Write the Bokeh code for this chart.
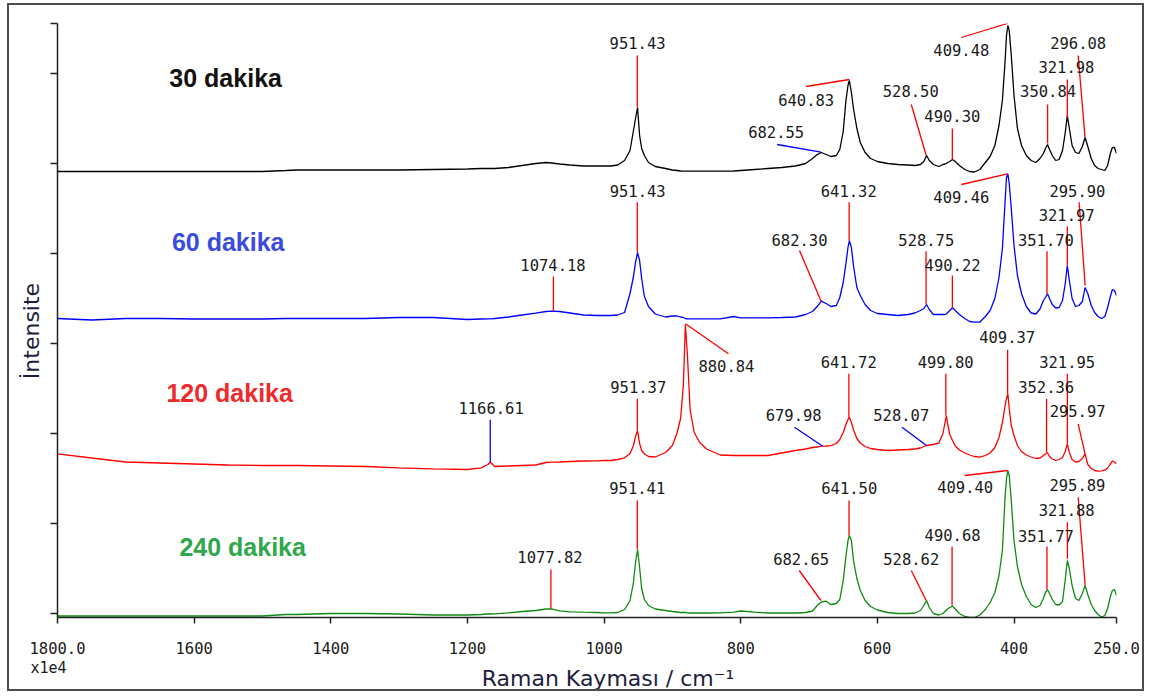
import math
from bokeh.plotting import figure
from bokeh.models import Range1d, FixedTicker, ColumnDataSource, LinearAxis
from bokeh.core.properties import value
from bokeh.embed import file_html
from bokeh.resources import INLINE

# ---------------- data ----------------
wavenumber = [
    1800, 1750, 1700, 1650, 1600, 1550, 1500, 1466, 1450, 1400, 1350, 1300, 1250, 1200, 1180, 1170, 1167, 1166,
    1160, 1140, 1120, 1100, 1085, 1077, 1065, 1050, 1030, 1010,
    1000, 990, 980, 970, 962, 957, 954, 951, 948, 945,
    941, 935, 925, 910, 900, 893, 888, 884, 881, 878,
    874, 868, 860, 850, 830, 810, 800, 780, 760, 740,
    720, 705, 695, 688, 682, 675, 668, 660, 655, 650,
    646, 643, 641, 638, 635, 630, 625, 618, 610, 600,
    585, 570, 555, 545, 537, 532, 528, 524, 518, 510,
    504, 501, 499, 497, 494, 490, 486, 480, 472, 465,
    458, 450, 442, 435, 428, 422, 417, 413, 411, 409,
    407, 404, 400, 395, 389, 382, 375, 368, 362, 357,
    354, 351, 348, 344, 339, 334, 329, 325, 322, 319,
    315, 310, 305, 300, 296, 292, 287, 282, 277, 272,
    267, 263, 259, 256, 253, 250,
]

int_30 = [
    442, 442, 442, 442, 442, 442, 442, 443, 443.5, 443.5, 443.5, 443.5, 444, 444.5, 445, 445, 445, 445,
    445, 446, 448, 450, 451, 450.5, 449.5, 448.5, 447.5, 447.5,
    447.5, 447.5, 448.5, 453, 463, 483, 495, 506, 478, 465,
    458, 451, 447, 445, 443.5, 443, 442.5, 442.3, 442.3, 442.3,
    442.3, 442.3, 442.3, 442.3, 442.3, 442.5, 443, 444, 445, 446,
    447.5, 450, 455, 459, 461, 459, 457, 458, 464, 482,
    513, 528, 533, 521, 505, 485, 471, 461, 455, 452,
    450, 449, 448.5, 448, 449, 452, 458, 453, 449, 447,
    449, 449.5, 450, 451, 452, 454, 452, 448, 444, 442,
    441.5, 444, 451, 457, 468, 488, 513, 553, 578, 588,
    583, 558, 518, 485, 468, 458, 453, 451, 455, 460,
    465, 469, 464, 458, 453, 454, 463, 481, 498, 485,
    468, 461, 460, 467, 476, 467, 455, 448, 445, 444,
    443, 448, 460, 466, 466, 460,
]

int_60 = [
    295, 293.5, 295, 295, 294.5, 294.5, 294.5, 295, 295, 295, 295, 296, 296, 294, 294.5, 294.7, 294.7, 294.7,
    295, 296.5, 298.5, 300.3, 302, 302.3, 302, 300.5, 298.5, 298,
    298, 298, 298.5, 301, 320, 337, 351, 361, 353, 335,
    317, 307, 299.5, 296.5, 297.5, 297.5, 296.5, 296, 295, 294.7,
    294.7, 294.7, 294.7, 294.7, 294.7, 297, 295.7, 295.7, 295.7, 296,
    296.5, 299, 302, 307, 312.3, 310, 307, 308, 316, 331,
    350, 366, 373, 366, 348, 326, 318, 309, 303, 300,
    299, 298, 299, 300.5, 303, 305, 309, 304, 299, 299,
    299, 299, 299.5, 301, 303, 305.7, 303, 299, 295, 292,
    291.3, 291.5, 297, 303, 315, 336, 365, 413, 436, 439.7,
    430, 405, 368, 338, 320, 307, 300.5, 299.5, 304.5, 313,
    316, 319.7, 315, 309, 305.5, 306, 313, 330, 348, 333,
    315, 307, 308, 312, 326, 320, 308, 301, 297, 295,
    297, 306, 317, 324, 323, 318,
]

int_120 = [
    159.7, 155.5, 151.5, 150.5, 149.5, 148.5, 148, 148, 148, 147.5, 147, 145.7, 144.7, 144, 145.7, 149, 151.3, 151,
    147, 147.5, 148, 148.5, 151, 151.3, 151.5, 152, 152.5, 152.7,
    153, 153, 154, 155.7, 160, 168, 177, 183, 170, 163,
    159.5, 157, 156.5, 161, 168, 181, 195, 228, 289, 258,
    203, 181, 171, 164.5, 158.5, 158, 158, 158, 158, 160.5,
    163, 164.5, 166, 166.5, 167.3, 167.5, 167.8, 170, 174, 181,
    189, 194, 196.3, 191, 184, 175, 170.5, 167, 165, 164,
    163, 163.5, 164, 164.5, 165.5, 167, 168, 168.5, 169, 170.5,
    180, 191, 198, 189, 179, 173, 167.5, 163.5, 160.5, 158.5,
    157, 156.3, 158, 160.5, 166, 176, 191, 208, 215, 219.7,
    205, 188, 178, 168, 162, 158.5, 156.5, 155, 155.5, 158,
    159.5, 160.7, 157, 154.5, 153, 154, 156, 162, 169.7, 161,
    154, 151.5, 152, 155, 159.7, 149, 145, 143, 142.3, 142.7,
    143.3, 145.5, 149.5, 152.3, 151.5, 149.7,
]

int_240 = [
    -2.5, -2.5, -2.5, -2.5, -2.5, -2.5, -2.5, -1, -1, 0, 0, -0.5, -1.5, -1.5, -1, -0.5, -0.5, -0.5,
    -0.3, 0.7, 2, 3, 4.5, 4.7, 2.7, 1.7, 1.3, 1,
    0.7, 0.7, 1, 4, 13, 31, 51, 64, 46, 25,
    14, 8, 4.5, 3, 2, 1.5, 1, 1, 1, 0.7,
    0.5, 0.5, 0.5, 0.5, 0.7, 1.3, 2.5, 1.3, 0.5, 0.5,
    0.5, 1, 2.5, 8, 11.5, 12.3, 9, 10, 14, 33,
    57, 73, 78, 73, 53, 35, 23, 13, 7, 3.5,
    1, 0, 0, 0.5, 3, 8, 13, 6, 0, -1.5,
    0, 2, 3.5, 4.7, 6, 7.3, 4.5, 0, -3, -4,
    -4, -1.5, 4, 11, 21, 38, 63, 118, 135, 143,
    138, 113, 73, 47, 29, 17, 9, 6, 8, 15,
    21, 23.7, 20, 14, 9, 8.5, 12, 34, 53, 45,
    28, 15, 13, 20, 28, 19, 9, 3, -1, -3.5,
    -2, 5, 17, 23, 24, 18,
]

series_names = ["30 dakika", "60 dakika", "120 dakika", "240 dakika"]
series_name_x = [1553.9, 1550.2, 1548.0, 1529.0]
series_name_y = [536, 372, 221, 67]

x_ticks = [1800, 1600, 1400, 1200, 1000, 800, 600, 400, 250]
x_tick_text = {1800: "1800.0", 250: "250.0"}
y_ticks = [0, 90, 180, 270, 360, 450, 540, 590]
scale_note = "x1e4"
x_title = "Raman Kayması / cm⁻¹"
y_title = "İntensite"

# peak annotations: label text, label centre, leader start, leader end (peak)
peaks_30 = dict(
    text=["951.43", "640.83", "682.55", "528.50", "490.30", "409.48", "350.84", "321.98", "296.08"],
    tx=[951.0, 704.2, 748.1, 551.1, 490.3, 477.1, 350.1, 323.3, 306.1],
    ty=[571, 514, 481.3, 522.3, 498, 564, 522.3, 546.3, 570.3],
    x0=[951.43, 704.2, 746.7, 550.4, 490.30, 477.1, 350.84, 321.98, 306.1],
    y0=[558, 527, 469, 509, 485, 576, 509, 534, 558],
    x1=[951.43, 640.83, 682.55, 528.50, 490.30, 409.48, 350.84, 321.98, 296.08],
    y1=[506, 534, 461.3, 458, 454, 590, 470, 496, 476],
    color=["#ff0000", "#ff0000", "#0000ff", "#ff0000", "#ff0000", "#ff0000", "#ff0000", "#ff0000", "#ff0000"],
)
peaks_60 = dict(
    text=["1074.18", "951.43", "682.30", "641.32", "528.75", "490.22", "409.46", "351.70", "321.97", "295.90"],
    tx=[1074.8, 950.8, 714.0, 641.9, 528.4, 489.9, 477.1, 353.3, 322.9, 307.2],
    ty=[349, 423, 373.7, 422.3, 373.7, 349, 416.3, 373.7, 399, 423],
    x0=[1074.18, 951.43, 714.0, 641.32, 528.75, 490.22, 477.1, 351.70, 321.97, 304.7],
    y0=[337, 411.3, 363, 411.3, 362.3, 338, 429, 362.3, 387, 411.3],
    x1=[1074.18, 951.43, 682.30, 641.32, 528.75, 490.22, 409.46, 351.70, 321.97, 295.90],
    y1=[302.3, 361.3, 312.3, 373, 309, 305.7, 439.7, 319.7, 348, 328],
    color=["#ff0000"] * 10,
)
peaks_120 = dict(
    text=["1166.61", "951.37", "880.84", "641.72", "679.98", "528.07", "499.80", "409.37", "352.36", "321.95", "295.97"],
    tx=[1165.4, 950.0, 820.9, 641.9, 722.5, 565.0, 500.1, 410.0, 353.0, 322.2, 306.9],
    ty=[205.7, 227, 248, 251.3, 199, 199, 251.3, 276.3, 226.3, 251.3, 203],
    x0=[1166.61, 951.37, 818.0, 641.72, 721.3, 564.0, 499.80, 409.37, 352.36, 321.95, 306.1],
    y0=[193.7, 214.7, 259.7, 239.7, 186.3, 186.3, 239.7, 263.7, 214.7, 239.7, 189.7],
    x1=[1166.61, 951.37, 880.84, 641.72, 679.98, 528.07, 499.80, 409.37, 352.36, 321.95, 295.97],
    y1=[151.3, 183, 289.7, 196.3, 167.3, 168, 198, 219.7, 160.7, 169.7, 159.7],
    color=["#0000ff", "#ff0000", "#ff0000", "#ff0000", "#0000ff", "#0000ff",
           "#ff0000", "#ff0000", "#ff0000", "#ff0000", "#ff0000"],
)
peaks_240 = dict(
    text=["1077.82", "951.41", "682.65", "641.50", "528.62", "490.68", "409.40", "351.77", "321.88", "295.89"],
    tx=[1079.2, 951.4, 711.5, 641.2, 550.4, 489.9, 471.5, 353.3, 322.9, 307.2],
    ty=[57, 126, 55, 126, 54.7, 79, 126.3, 78, 103.7, 129],
    x0=[1077.82, 951.41, 714.4, 641.50, 550.4, 490.68, 472.3, 351.77, 321.88, 306.1],
    y0=[44, 113, 43, 113, 43, 67, 138, 67, 91.3, 116.3],
    x1=[1077.82, 951.41, 682.65, 641.50, 528.62, 490.68, 409.40, 351.77, 321.88, 295.89],
    y1=[5, 64, 13, 78, 13, 8, 143, 23.7, 54.7, 28],
    color=["#ff0000"] * 10,
)

NBSP = "\u00a0"

# ---------------- figure ----------------
p = figure(width=1137, height=688, output_backend="svg", toolbar_location=None,
           x_range=Range1d(1800, 250), y_range=Range1d(-4, 590),
           min_border_left=48, min_border_right=30, min_border_top=18, min_border_bottom=76)
p.styles = {"border": "2px solid #4d4d4d", "margin-top": "3px", "margin-left": "7px"}
p.outline_line_color = None
p.xgrid.visible = False
p.ygrid.visible = False
p.background_fill_color = "white"
p.border_fill_color = "white"

mono = value("DejaVu Sans Mono")

# x axis (numbers)
p.xaxis.ticker = FixedTicker(ticks=x_ticks)
p.xaxis.major_label_overrides = x_tick_text
p.xaxis.major_label_text_font = "DejaVu Sans Mono"
p.xaxis.major_label_text_font_size = "15.5px"
p.xaxis.major_label_text_color = "#1a1a1a"
p.xaxis.major_label_standoff = 18
p.xaxis.major_tick_out = 6
p.xaxis.major_tick_in = 0
p.xaxis.minor_tick_line_color = None
p.xaxis.axis_line_width = 1.5
p.xaxis.axis_line_color = "#222222"
p.xaxis.major_tick_line_color = "#222222"
p.xaxis.major_tick_line_width = 1.5

# second bottom axis: scale note and axis title
ax2 = LinearAxis(ticker=FixedTicker(ticks=[x_ticks[0]]),
                 major_label_overrides={x_ticks[0]: scale_note + NBSP * 2},
                 axis_line_color=None, major_tick_line_color=None, minor_tick_line_color=None,
                 major_tick_out=0, major_tick_in=0, major_label_standoff=2,
                 major_label_text_font="DejaVu Sans Mono", major_label_text_font_size="15px",
                 major_label_text_color="#1a1a1a",
                 axis_label=NBSP * 6 + x_title, axis_label_standoff=-14,
                 axis_label_text_font="DejaVu Sans", axis_label_text_font_size="22px",
                 axis_label_text_font_style="normal", axis_label_text_color="#1e1e3c")
p.add_layout(ax2, "below")

# y axis (no numbers)
p.yaxis.ticker = FixedTicker(ticks=y_ticks)
p.yaxis.major_label_overrides = {t: "" for t in y_ticks}
p.yaxis.major_label_text_color = None
p.yaxis.major_label_standoff = 0
p.yaxis.major_tick_out = 7
p.yaxis.major_tick_in = 0
p.yaxis.minor_tick_line_color = None
p.yaxis.axis_line_width = 1.5
p.yaxis.axis_line_color = "#222222"
p.yaxis.major_tick_line_color = "#222222"
p.yaxis.major_tick_line_width = 1.5
p.yaxis.axis_label = y_title + NBSP * 3
p.yaxis.axis_label_standoff = 7
p.yaxis.axis_label_text_font = "DejaVu Sans"
p.yaxis.axis_label_text_font_size = "22px"
p.yaxis.axis_label_text_font_style = "normal"
p.yaxis.axis_label_text_color = "#1e1e3c"

# spectra
p.line(wavenumber, int_30, line_color="#000000", line_width=1.3)
p.line(wavenumber, int_60, line_color="#0000ff", line_width=1.3)
p.line(wavenumber, int_120, line_color="#ff0000", line_width=1.3)
p.line(wavenumber, int_240, line_color="#108a10", line_width=1.3)

# peak annotations
for d in (peaks_30, peaks_60, peaks_120, peaks_240):
    src = ColumnDataSource(d)
    p.segment(x0="x0", y0="y0", x1="x1", y1="y1", line_color="color", line_width=1.3, source=src)
    p.text(x="tx", y="ty", text="text", source=src, text_align="center", text_baseline="middle",
           text_font=mono, text_font_size="15.5px", text_color="#1a1a1a")

# series names
name_colors = ["#111111", "#3a4be0", "#ee2a2a", "#2ea84a"]
p.text(x=series_name_x, y=series_name_y, text=series_names, text_color=name_colors,
       text_align="center", text_baseline="middle", text_font=value("Liberation Sans"),
       text_font_size="25px", text_font_style="bold")

open("out.html", "w").write(file_html(p, INLINE))
